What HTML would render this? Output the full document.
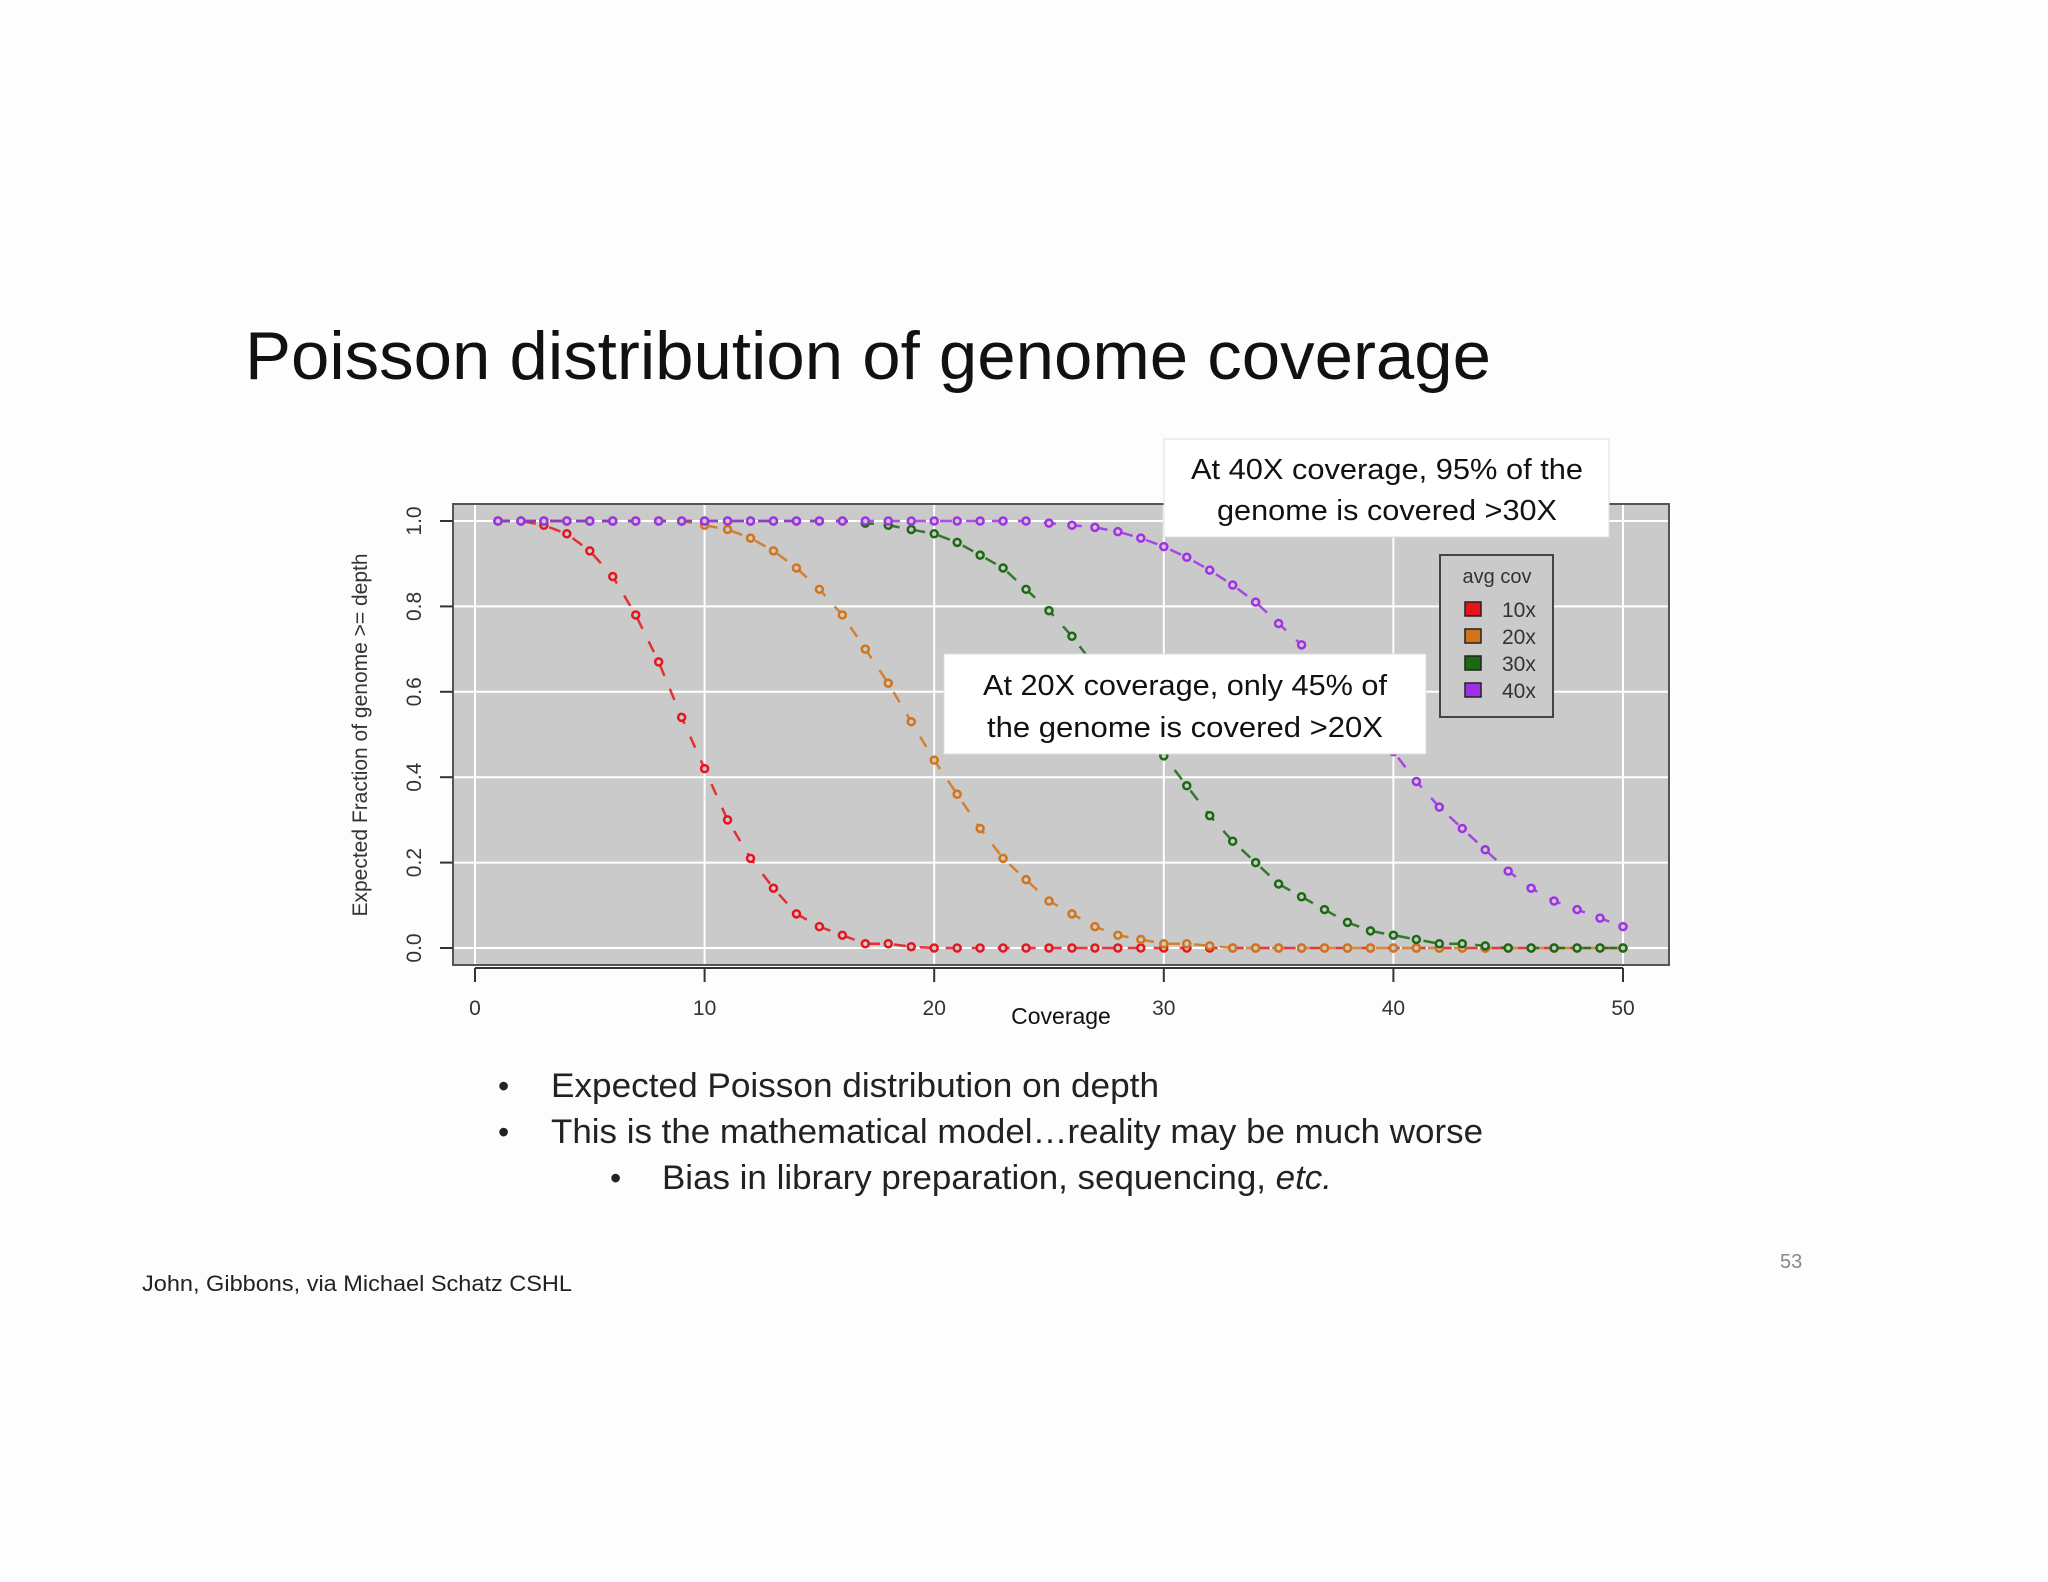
<!DOCTYPE html>
<html><head><meta charset="utf-8"><style>
html,body{margin:0;padding:0;background:#fdfdfd;}
svg{display:block;}
text{font-family:"Liberation Sans",sans-serif;}
</style></head><body>
<svg id="s" width="2048" height="1582" viewBox="0 0 2048 1582" xmlns="http://www.w3.org/2000/svg">
<rect x="0" y="0" width="2048" height="1582" fill="#fdfdfd"/>
<text x="245" y="379" font-size="68" fill="#111" textLength="1246" lengthAdjust="spacingAndGlyphs">Poisson distribution of genome coverage</text>
<g id="chart"></g>
<g>
<rect x="1164" y="439" width="445" height="98" fill="#fff" stroke="#ddd"/>
<text x="1387" y="479" font-size="29" text-anchor="middle" fill="#111" textLength="392" lengthAdjust="spacingAndGlyphs">At 40X coverage, 95% of the</text>
<text x="1387" y="520" font-size="29" text-anchor="middle" fill="#111" textLength="340" lengthAdjust="spacingAndGlyphs">genome is covered &gt;30X</text>
</g>
<g>
<rect x="944" y="654" width="482" height="100" fill="#fff" stroke="#ddd"/>
<text x="1185" y="695" font-size="29" text-anchor="middle" fill="#111" textLength="404" lengthAdjust="spacingAndGlyphs">At 20X coverage, only 45% of</text>
<text x="1185" y="737" font-size="29" text-anchor="middle" fill="#111" textLength="396" lengthAdjust="spacingAndGlyphs">the genome is covered &gt;20X</text>
</g>
<g>
<text x="498" y="1097" font-size="32" fill="#222">•</text>
<text x="551" y="1097" font-size="34" fill="#222" textLength="608" lengthAdjust="spacingAndGlyphs">Expected Poisson distribution on depth</text>
<text x="498" y="1143" font-size="32" fill="#222">•</text>
<text x="551" y="1143" font-size="34" fill="#222" textLength="932" lengthAdjust="spacingAndGlyphs">This is the mathematical model…reality may be much worse</text>
<text x="610" y="1189" font-size="32" fill="#222">•</text>
<text x="662" y="1189" font-size="34" fill="#222" textLength="670" lengthAdjust="spacingAndGlyphs">Bias in library preparation, sequencing, <tspan font-style="italic">etc.</tspan></text>
</g>
<text x="1780" y="1268" font-size="20" fill="#888">53</text>
<text x="142" y="1291" font-size="22" fill="#222" textLength="430" lengthAdjust="spacingAndGlyphs">John, Gibbons, via Michael Schatz CSHL</text>
</svg>
<script>
const coverageX = [];
for (let k = 1; k <= 50; k++) coverageX.push(k);
const cov10 = [1,1,0.99,0.97,0.93,0.87,0.78,0.67,0.54,0.42,0.30,0.21,0.14,0.08,0.05,0.03,0.01,0.01,0.003,0,0,0,0,0,0,0,0,0,0,0,0,0,0,0,0,0,0,0,0,0,0,0,0,0,0,0,0,0,0,0];
const cov20 = [1,1,1,1,1,1,1,1,1,0.99,0.98,0.96,0.93,0.89,0.84,0.78,0.70,0.62,0.53,0.44,0.36,0.28,0.21,0.16,0.11,0.08,0.05,0.03,0.02,0.01,0.01,0.005,0,0,0,0,0,0,0,0,0,0,0,0,0,0,0,0,0,0];
const cov30 = [1,1,1,1,1,1,1,1,1,1,1,1,1,1,1,1,0.995,0.99,0.98,0.97,0.95,0.92,0.89,0.84,0.79,0.73,0.66,0.59,0.52,0.45,0.38,0.31,0.25,0.20,0.15,0.12,0.09,0.06,0.04,0.03,0.02,0.01,0.01,0.005,0,0,0,0,0,0];
const cov40 = [1,1,1,1,1,1,1,1,1,1,1,1,1,1,1,1,1,1,1,1,1,1,1,1,0.995,0.99,0.985,0.975,0.96,0.94,0.915,0.885,0.85,0.81,0.76,0.71,0.65,0.59,0.52,0.46,0.39,0.33,0.28,0.23,0.18,0.14,0.11,0.09,0.07,0.05];
const seriesNames = ["10x","20x","30x","40x"];
const seriesColors = ["#e8141c","#d2741a","#1a6a12","#a030e8"];
const xTicks = [0,10,20,30,40,50];
const yTicks = [0,0.2,0.4,0.6,0.8,1.0];
const yTickLabels = ["0.0","0.2","0.4","0.6","0.8","1.0"];

const NS = "http://www.w3.org/2000/svg";
const g = document.getElementById("chart");
const X = v => 475 + v * (1623 - 475) / 50;
const Y = v => 948 - v * (948 - 521);
function mk(tag, attrs, parent) {
  const e = document.createElementNS(NS, tag);
  for (const k in attrs) e.setAttribute(k, attrs[k]);
  (parent || g).appendChild(e);
  return e;
}
let e;
e = mk("rect", {x:453, y:504, width:1216, height:461, fill:"#cacaca", stroke:"#555", "stroke-width":2});


xTicks.forEach(t => {
  e = mk("line", {x1:X(t), x2:X(t), y1:505, y2:964, stroke:"#fff", "stroke-width":2});
  
  
  e = mk("line", {x1:X(t), x2:X(t), y1:968, y2:982, stroke:"#333", "stroke-width":2});
  
  
  e = mk("text", {x:X(t), y:1015, "font-size":21, "text-anchor":"middle", fill:"#333"});
  e.textContent = t;
  
  
});
e = mk("line", {x1:X(0), x2:X(50), y1:968, y2:968, stroke:"#333", "stroke-width":2});


yTicks.forEach((t, i) => {
  e = mk("line", {x1:454, x2:1668, y1:Y(t), y2:Y(t), stroke:"#fff", "stroke-width":2});
  
  
  e = mk("line", {x1:440, x2:453, y1:Y(t), y2:Y(t), stroke:"#333", "stroke-width":2});
  
  
  e = mk("text", {x:0, y:0, "font-size":21, "text-anchor":"middle", fill:"#333", transform:"translate(421," + Y(t) + ") rotate(-90)"});
  e.textContent = yTickLabels[i];
  
  
});
e = mk("text", {x:0, y:0, "font-size":21, "text-anchor":"middle", fill:"#333", transform:"translate(367,735) rotate(-90)"});
e.textContent = "Expected Fraction of genome >= depth";


e = mk("text", {x:1061, y:1024, "font-size":23, "text-anchor":"middle", fill:"#111"});
e.textContent = "Coverage";



const allSeries = [cov10, cov20, cov30, cov40];
allSeries.forEach((vals, si) => {
  const sg = mk("g", {});
  
  
  const pts = vals.map((v, i) => X(coverageX[i]) + "," + Y(v)).join(" ");
  e = mk("polyline", {points:pts, fill:"none", stroke:seriesColors[si], "stroke-width":2.5, "stroke-dasharray":"12 14", opacity:0.85}, sg);
  
  
  vals.forEach((v, i) => {
    e = mk("circle", {cx:X(coverageX[i]), cy:Y(v), r:3.5, fill:"#cacaca", stroke:seriesColors[si], "stroke-width":2.5}, sg);
    
    
  });
});

const lg = mk("g", {});


e = mk("rect", {x:1440, y:555, width:113, height:162, fill:"#cacaca", stroke:"#444", "stroke-width":2}, lg);


e = mk("text", {x:1497, y:583, "font-size":20, "text-anchor":"middle", fill:"#333"}, lg);
e.textContent = "avg cov";


seriesNames.forEach((n, i) => {
  const yy = 609 + i * 27;
  e = mk("rect", {x:1465, y:yy - 7, width:16, height:14, fill:seriesColors[i], stroke:"#222", "stroke-width":1.5}, lg);
  
  
  e = mk("text", {x:1502, y:yy + 8, "font-size":21, fill:"#333"}, lg);
  e.textContent = n;
  
  
});
</script>
</body></html>
